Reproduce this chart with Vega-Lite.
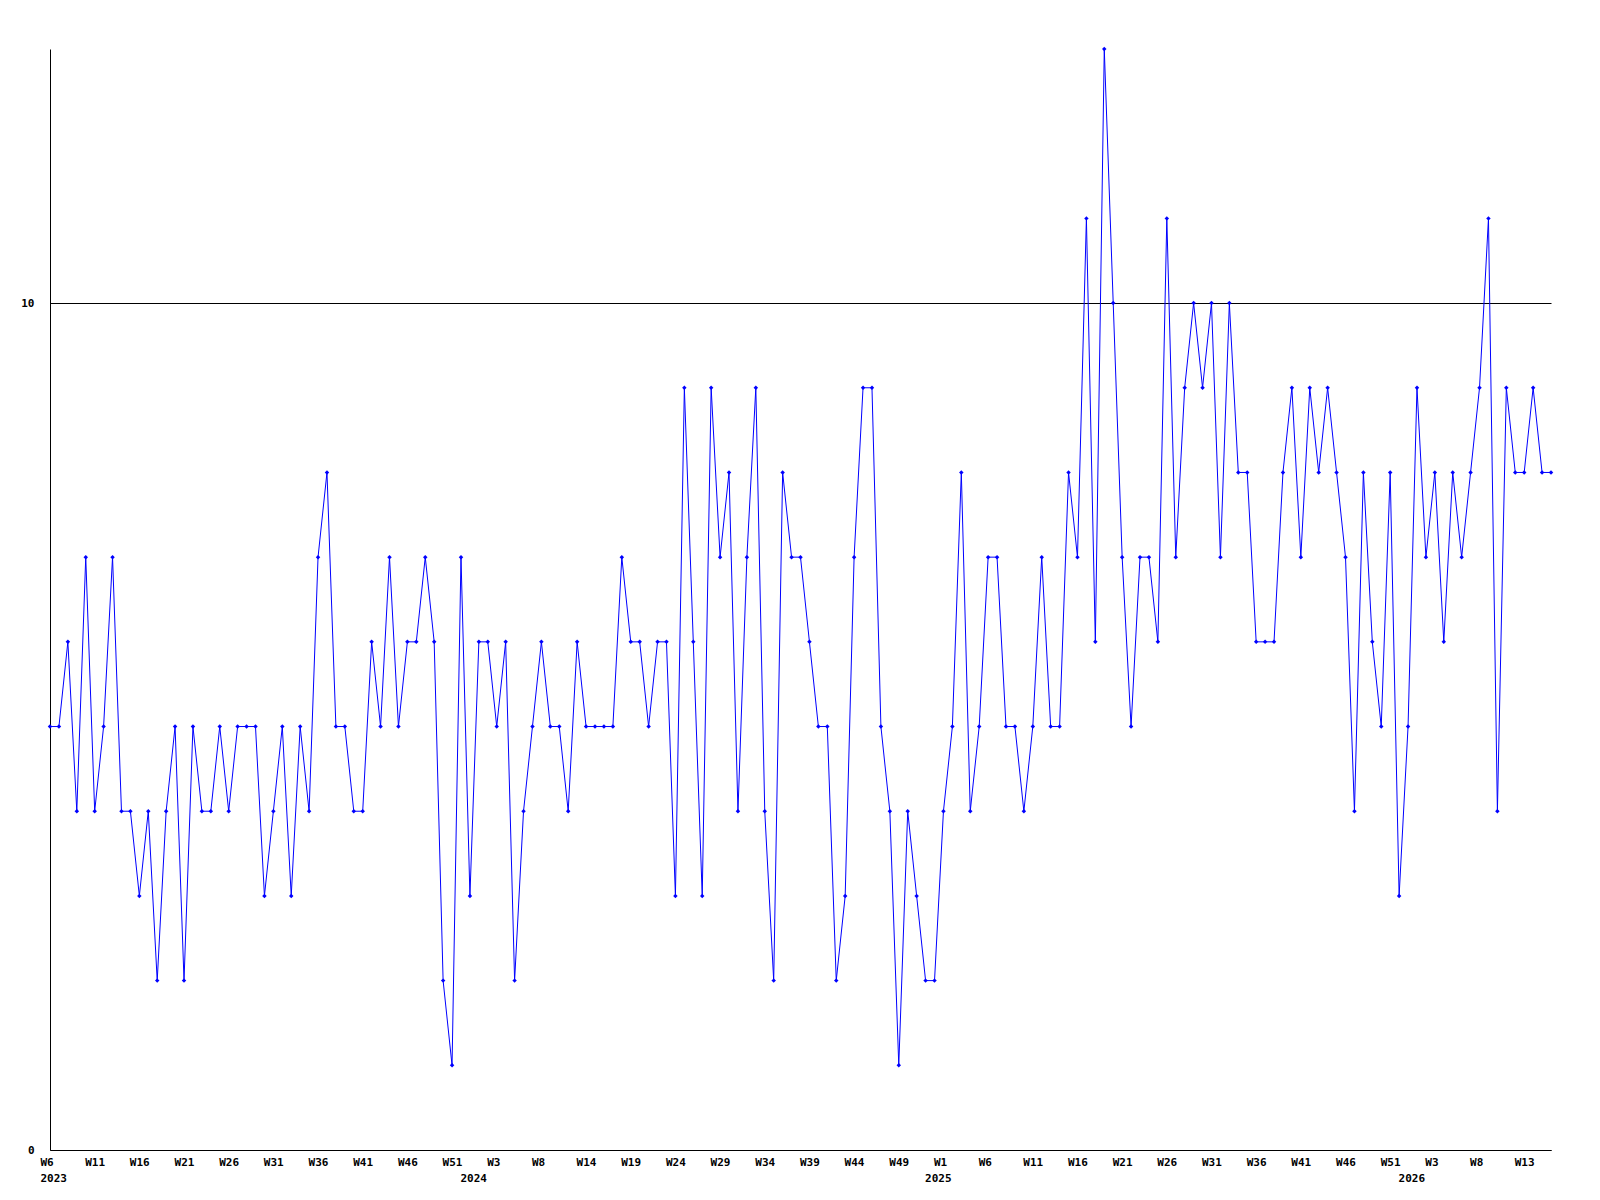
{
  "$schema": "https://vega.github.io/schema/vega-lite/v6.json",
  "autosize": {"type": "none"},
  "padding": {"left": 50, "top": 49, "right": 49, "bottom": 50},
  "width": 1501,
  "height": 1101,
  "background": "white",
  "config": {"view": {"stroke": null}},
  "data": {"values": [
    {"week":"2023-W06","v":5},{"week":"2023-W07","v":5},{"week":"2023-W08","v":6},{"week":"2023-W09","v":4},{"week":"2023-W10","v":7},
    {"week":"2023-W11","v":4},{"week":"2023-W12","v":5},{"week":"2023-W13","v":7},{"week":"2023-W14","v":4},{"week":"2023-W15","v":4},
    {"week":"2023-W16","v":3},{"week":"2023-W17","v":4},{"week":"2023-W18","v":2},{"week":"2023-W19","v":4},{"week":"2023-W20","v":5},
    {"week":"2023-W21","v":2},{"week":"2023-W22","v":5},{"week":"2023-W23","v":4},{"week":"2023-W24","v":4},{"week":"2023-W25","v":5},
    {"week":"2023-W26","v":4},{"week":"2023-W27","v":5},{"week":"2023-W28","v":5},{"week":"2023-W29","v":5},{"week":"2023-W30","v":3},
    {"week":"2023-W31","v":4},{"week":"2023-W32","v":5},{"week":"2023-W33","v":3},{"week":"2023-W34","v":5},{"week":"2023-W35","v":4},
    {"week":"2023-W36","v":7},{"week":"2023-W37","v":8},{"week":"2023-W38","v":5},{"week":"2023-W39","v":5},{"week":"2023-W40","v":4},
    {"week":"2023-W41","v":4},{"week":"2023-W42","v":6},{"week":"2023-W43","v":5},{"week":"2023-W44","v":7},{"week":"2023-W45","v":5},
    {"week":"2023-W46","v":6},{"week":"2023-W47","v":6},{"week":"2023-W48","v":7},{"week":"2023-W49","v":6},{"week":"2023-W50","v":2},
    {"week":"2023-W51","v":1},{"week":"2023-W52","v":7},{"week":"2024-W00","v":3},{"week":"2024-W01","v":6},{"week":"2024-W02","v":6},
    {"week":"2024-W03","v":5},{"week":"2024-W04","v":6},{"week":"2024-W05","v":2},{"week":"2024-W06","v":4},{"week":"2024-W07","v":5},
    {"week":"2024-W08","v":6},{"week":"2024-W09","v":5},{"week":"2024-W10","v":5},{"week":"2024-W11","v":4},{"week":"2024-W12","v":6},
    {"week":"2024-W14","v":5},{"week":"2024-W15","v":5},{"week":"2024-W16","v":5},{"week":"2024-W17","v":5},{"week":"2024-W18","v":7},
    {"week":"2024-W19","v":6},{"week":"2024-W20","v":6},{"week":"2024-W21","v":5},{"week":"2024-W22","v":6},{"week":"2024-W23","v":6},
    {"week":"2024-W24","v":3},{"week":"2024-W25","v":9},{"week":"2024-W26","v":6},{"week":"2024-W27","v":3},{"week":"2024-W28","v":9},
    {"week":"2024-W29","v":7},{"week":"2024-W30","v":8},{"week":"2024-W31","v":4},{"week":"2024-W32","v":7},{"week":"2024-W33","v":9},
    {"week":"2024-W34","v":4},{"week":"2024-W35","v":2},{"week":"2024-W36","v":8},{"week":"2024-W37","v":7},{"week":"2024-W38","v":7},
    {"week":"2024-W39","v":6},{"week":"2024-W40","v":5},{"week":"2024-W41","v":5},{"week":"2024-W42","v":2},{"week":"2024-W43","v":3},
    {"week":"2024-W44","v":7},{"week":"2024-W45","v":9},{"week":"2024-W46","v":9},{"week":"2024-W47","v":5},{"week":"2024-W48","v":4},
    {"week":"2024-W49","v":1},{"week":"2024-W50","v":4},{"week":"2024-W51","v":3},{"week":"2024-W52","v":2},{"week":"2025-W00","v":2},
    {"week":"2025-W01","v":4},{"week":"2025-W02","v":5},{"week":"2025-W03","v":8},{"week":"2025-W04","v":4},{"week":"2025-W05","v":5},
    {"week":"2025-W06","v":7},{"week":"2025-W07","v":7},{"week":"2025-W08","v":5},{"week":"2025-W09","v":5},{"week":"2025-W10","v":4},
    {"week":"2025-W11","v":5},{"week":"2025-W12","v":7},{"week":"2025-W13","v":5},{"week":"2025-W14","v":5},{"week":"2025-W15","v":8},
    {"week":"2025-W16","v":7},{"week":"2025-W17","v":11},{"week":"2025-W18","v":6},{"week":"2025-W19","v":13},{"week":"2025-W20","v":10},
    {"week":"2025-W21","v":7},{"week":"2025-W22","v":5},{"week":"2025-W23","v":7},{"week":"2025-W24","v":7},{"week":"2025-W25","v":6},
    {"week":"2025-W26","v":11},{"week":"2025-W27","v":7},{"week":"2025-W28","v":9},{"week":"2025-W29","v":10},{"week":"2025-W30","v":9},
    {"week":"2025-W31","v":10},{"week":"2025-W32","v":7},{"week":"2025-W33","v":10},{"week":"2025-W34","v":8},{"week":"2025-W35","v":8},
    {"week":"2025-W36","v":6},{"week":"2025-W37","v":6},{"week":"2025-W38","v":6},{"week":"2025-W39","v":8},{"week":"2025-W40","v":9},
    {"week":"2025-W41","v":7},{"week":"2025-W42","v":9},{"week":"2025-W43","v":8},{"week":"2025-W44","v":9},{"week":"2025-W45","v":8},
    {"week":"2025-W46","v":7},{"week":"2025-W47","v":4},{"week":"2025-W48","v":8},{"week":"2025-W49","v":6},{"week":"2025-W50","v":5},
    {"week":"2025-W51","v":8},{"week":"2025-W52","v":3},{"week":"2026-W00","v":5},{"week":"2026-W01","v":9},{"week":"2026-W02","v":7},
    {"week":"2026-W03","v":8},{"week":"2026-W04","v":6},{"week":"2026-W05","v":8},{"week":"2026-W06","v":7},{"week":"2026-W07","v":8},
    {"week":"2026-W08","v":9},{"week":"2026-W09","v":11},{"week":"2026-W10","v":4},{"week":"2026-W11","v":9},{"week":"2026-W12","v":8},
    {"week":"2026-W13","v":8},{"week":"2026-W14","v":9},{"week":"2026-W15","v":8},{"week":"2026-W16","v":8}
  ]},
  "encoding": {
    "x": {
      "field": "week", "type": "ordinal", "sort": null,
      "scale": {"type": "point", "padding": 0},
      "axis": {
        "title": null,
        "values": ["2023-W06","2023-W11","2023-W16","2023-W21","2023-W26","2023-W31","2023-W36","2023-W41","2023-W46","2023-W51","2024-W00","2024-W03","2024-W08","2024-W14","2024-W19","2024-W24","2024-W29","2024-W34","2024-W39","2024-W44","2024-W49","2025-W00","2025-W01","2025-W06","2025-W11","2025-W16","2025-W21","2025-W26","2025-W31","2025-W36","2025-W41","2025-W46","2025-W51","2026-W00","2026-W03","2026-W08","2026-W13"],
        "labelExpr": "datum.value == '2023-W06' ? ['W6', '2023'] : (substring(datum.value, 6) == '00' ? ['', substring(datum.value, 0, 4)] : 'W' + parseInt(substring(datum.value, 6)))",
        "labelAngle": 0,
        "labelAlign": "left",
        "labelOffset": -10,
        "labelOverlap": false,
        "labelFont": "DejaVu Sans Mono",
        "labelFontWeight": "bold",
        "labelFontSize": 11,
        "labelColor": "black",
        "labelLineHeight": 16,
        "labelBaseline": "top",
        "labelPadding": 6,
        "ticks": false,
        "tickSize": 0,
        "grid": false,
        "domainColor": "black",
        "domainWidth": 1
      }
    },
    "y": {
      "field": "v", "type": "quantitative",
      "scale": {"domain": [0, 13], "nice": false, "zero": true},
      "axis": {
        "title": null,
        "values": [0, 10],
        "labelFont": "DejaVu Sans Mono",
        "labelFontWeight": "bold",
        "labelFontSize": 11,
        "labelColor": "black",
        "labelPadding": 16,
        "ticks": false,
        "tickSize": 0,
        "grid": true,
        "gridColor": "black",
        "gridOpacity": 1,
        "gridWidth": 1,
        "domainColor": "black",
        "domainWidth": 1
      }
    }
  },
  "layer": [
    {"mark": {"type": "line", "color": "#0000ff", "strokeWidth": 1}},
    {"mark": {"type": "point", "shape": "diamond", "filled": true, "color": "#0000ff", "size": 20, "opacity": 1}}
  ]
}
